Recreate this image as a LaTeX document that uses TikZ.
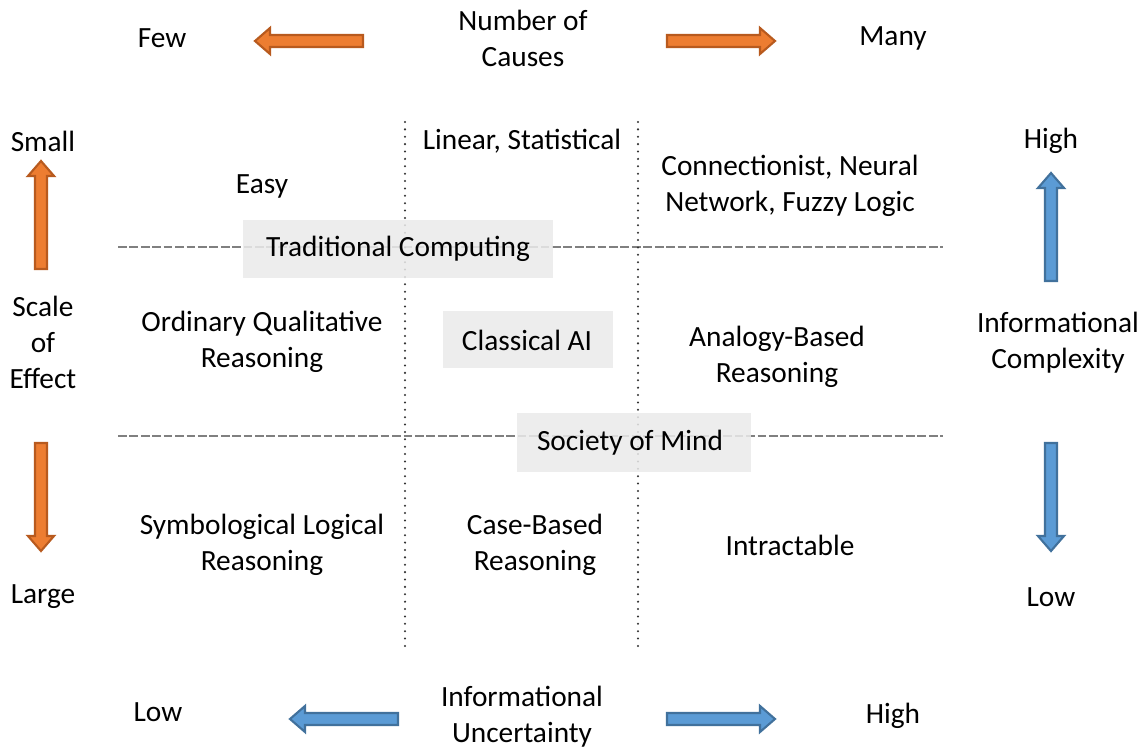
\documentclass[tikz,border=0pt]{standalone}
\usepackage{fontspec}
\setmainfont{Carlito}
\definecolor{orfill}{HTML}{ED7D31}
\definecolor{ordraw}{HTML}{B85A1E}
\definecolor{blfill}{HTML}{5B9BD5}
\definecolor{bldraw}{HTML}{41719C}
\tikzset{
  lbl/.style={align=center,inner sep=0pt,font=\fontsize{16.7}{20.5}\selectfont},
  graybox/.style={fill=black!8,fill opacity=0.85,draw=none},
  splitline/.style={gray,line width=0.7pt,dash pattern=on 5pt off 1.5pt},
  colline/.style={black!80,line width=1.3pt,dash pattern=on 0pt off 4.2pt,line cap=round},
  pics/blockarr/.style={code={
    \draw[line width=1.2pt,#1] (0,-6) -- (93,-6) -- (93,-13) -- (108,0) -- (93,13) -- (93,6) -- (0,6) -- cycle;}},
}
\begin{document}
\begin{tikzpicture}[x=0.02cm,y=-0.02cm]
	\useasboundingbox[fill=white] (0,0) rectangle (1137,749);
	% grid lines
	\draw[splitline] (118,247) -- (943,247);
	\draw[splitline] (118,436) -- (943,436);
	\draw[colline] (405,122) -- (405,648);
	\draw[colline] (638,122) -- (638,648);
	% shaded regions
	\fill[graybox] (243,220) rectangle (553,278);
	\fill[graybox] (443,311) rectangle (613,368);
	\fill[graybox] (517,413) rectangle (751,472);
	% top axis
	\node[lbl] (few) at (162,38) {Few};
	\node[lbl] (causes) at (523,38) {Number of\\Causes};
	\node[lbl] (many) at (893,38) {Many};
	\pic[rotate=180] at (363,41) {blockarr={draw=ordraw,fill=orfill}};
	\pic at (667,41) {blockarr={draw=ordraw,fill=orfill}};
	% left axis
	\node[lbl] (small) at (43,141) {Small};
	\node[lbl] (scale) at (43,342) {Scale\\of\\Effect};
	\node[lbl] (large) at (43,597) {Large};
	\pic[rotate=90] at (41,269) {blockarr={draw=ordraw,fill=orfill}};
	\pic[rotate=-90] at (41,443) {blockarr={draw=ordraw,fill=orfill}};
	% right axis
	\node[lbl] (high) at (1051,141) {High};
	\node[lbl] (complex) at (1058,343) {Informational\\Complexity};
	\node[lbl] (low) at (1051,597) {Low};
	\pic[rotate=90] at (1051,281) {blockarr={draw=bldraw,fill=blfill}};
	\pic[rotate=-90] at (1051,443) {blockarr={draw=bldraw,fill=blfill}};
	% bottom axis
	\node[lbl] (lowb) at (158,712) {Low};
	\node[lbl] (uncert) at (522,717) {Informational\\Uncertainty};
	\node[lbl] (highb) at (893,716) {High};
	\pic[rotate=180] at (398,719) {blockarr={draw=bldraw,fill=blfill}};
	\pic at (667,719) {blockarr={draw=bldraw,fill=blfill}};
	% cells
	\node[lbl] (easy) at (262,186) {Easy};
	\node[lbl] (linear) at (522,141) {Linear, Statistical};
	\node[lbl] (neural) at (790,186) {Connectionist, Neural\\Network, Fuzzy Logic};
	\node[lbl] (tradcomp) at (398,249) {Traditional Computing};
	\node[lbl] (ordqual) at (262,342) {Ordinary Qualitative\\Reasoning};
	\node[lbl] (classai) at (527,340) {Classical AI};
	\node[lbl] (analogy) at (777,357) {Analogy-Based\\Reasoning};
	\node[lbl] (society) at (630,443) {Society of Mind};
	\node[lbl] (symbolic) at (262,545) {Symbological Logical\\Reasoning};
	\node[lbl] (casebased) at (535,545) {Case-Based\\Reasoning};
	\node[lbl] (intract) at (790,545) {Intractable};
\end{tikzpicture}
\end{document}
